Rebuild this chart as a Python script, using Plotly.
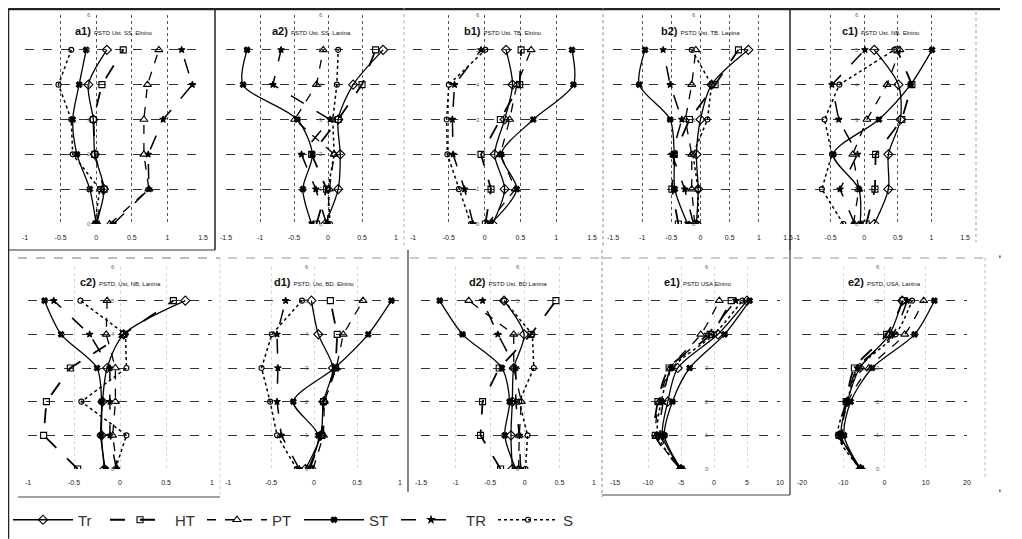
import plotly.graph_objects as go

# page is 1022x539; the html body adds an 8px margin, so the figure is 1014x531
PAGE_OFF = 8
W, H = 1014, 531

levels = [0, 1, 2, 3, 4, 5]
series = ["Tr", "HT", "PT", "ST", "TR", "S"]

a1 = {"Tr": [0.0, 0.11, -0.02, -0.04, -0.11, 0.15],
      "HT": [0.0, 0.11, -0.02, -0.04, 0.08, 0.38],
      "PT": [0.19, 0.74, 0.67, 0.67, 0.72, 0.88],
      "ST": [0.0, -0.09, -0.27, -0.33, -0.24, -0.14],
      "TR": [0.24, 0.74, 0.73, 0.94, 1.35, 1.2],
      "S": [-0.02, 0.05, -0.33, -0.35, -0.53, -0.35]}
a2 = {"Tr": [-0.04, 0.15, 0.18, 0.15, 0.37, 0.81],
      "HT": [-0.17, -0.02, -0.24, 0.15, 0.5, 0.70],
      "PT": [-0.01, 0.02, 0.09, -0.49, -0.17, -0.07],
      "ST": [-0.24, -0.37, -0.23, -0.45, -1.25, -1.19],
      "TR": [-0.02, -0.18, -0.39, 0.03, -0.81, -0.69],
      "S": [0.03, 0.0, 0.09, 0.07, 0.13, 0.15]}
b1 = {"Tr": [0.11, 0.28, 0.14, 0.28, 0.39, 0.30],
      "HT": [0.01, 0.09, -0.05, 0.22, 0.49, 0.51],
      "PT": [0.04, 0.43, 0.22, 0.35, 0.45, 0.65],
      "ST": [0.08, 0.45, 0.23, 0.68, 1.24, 1.22],
      "TR": [-0.16, -0.28, -0.44, -0.45, -0.42, -0.05],
      "S": [-0.19, -0.36, -0.52, -0.53, -0.50, 0.01]}
b2 = {"Tr": [-0.07, -0.04, -0.07, 0.0, 0.19, 0.82],
      "HT": [-0.38, -0.49, -0.45, -0.19, 0.25, 0.65],
      "PT": [-0.10, -0.15, -0.15, -0.26, -0.15, -0.08],
      "ST": [-0.22, -0.44, -0.45, -0.52, -1.05, -0.95],
      "TR": [-0.12, -0.27, -0.49, -0.32, -0.52, -0.64],
      "S": [-0.04, -0.04, -0.13, 0.12, 0.19, -0.15]}
c1 = {"Tr": [0.15, 0.36, 0.36, 0.54, 0.51, 0.15],
      "HT": [0.03, 0.16, 0.17, 0.56, 0.71, 0.49],
      "PT": [-0.16, -0.08, -0.17, 0.04, 0.34, 0.53],
      "ST": [-0.06, -0.08, -0.46, 0.22, 0.69, 1.01],
      "TR": [-0.14, -0.36, -0.10, -0.38, -0.48, 0.01],
      "S": [-0.31, -0.63, -0.48, -0.59, -0.37, 0.45]}
c2 = {"Tr": [-0.17, -0.20, -0.19, -0.14, 0.04, 0.71],
      "HT": [-0.46, -0.83, -0.80, -0.54, 0.04, 0.58],
      "PT": [-0.03, -0.08, -0.05, -0.05, -0.15, -0.14],
      "ST": [-0.16, -0.21, -0.20, -0.25, -0.64, -0.82],
      "TR": [-0.04, -0.11, -0.11, -0.11, -0.33, -0.72],
      "S": [-0.05, 0.07, -0.42, 0.07, 0.06, -0.43]}
d1 = {"Tr": [-0.10, 0.08, 0.11, 0.22, 0.05, -0.03],
      "HT": [-0.05, 0.09, 0.11, 0.25, 0.27, 0.19],
      "PT": [-0.01, 0.11, 0.12, 0.26, 0.34, 0.57],
      "ST": [-0.07, 0.05, -0.24, 0.24, 0.63, 0.90],
      "TR": [-0.17, -0.38, -0.43, -0.42, -0.43, -0.33],
      "S": [-0.20, -0.43, -0.51, -0.61, -0.49, -0.14]}
d2 = {"Tr": [-0.18, -0.20, -0.18, -0.16, -0.01, -0.30],
      "HT": [-0.35, -0.64, -0.61, -0.37, 0.09, 0.45],
      "PT": [-0.09, -0.08, -0.05, -0.16, -0.16, -0.81],
      "ST": [-0.13, -0.29, -0.22, -0.33, -0.90, -1.23],
      "TR": [-0.06, -0.08, -0.13, -0.13, -0.39, -0.61],
      "S": [0.01, 0.04, -0.08, 0.13, 0.11, -0.30]}
e1 = {"Tr": [-5.0, -7.8, -7.0, -5.5, 0.6, 5.0],
      "HT": [-5.0, -8.9, -8.5, -6.8, -0.5, 2.6],
      "PT": [-5.0, -8.7, -8.3, -6.6, -2.0, 0.8],
      "ST": [-5.0, -7.5, -6.3, -3.7, 1.6, 5.4],
      "TR": [-5.0, -8.1, -7.7, -6.5, -1.0, 3.3],
      "S": [-5.0, -8.5, -8.0, -6.3, 0.0, 4.3]}
e2 = {"Tr": [-5.8, -10.5, -9.0, -6.0, 1.2, 4.3],
      "HT": [-5.8, -11.0, -9.3, -7.3, 0.5, 4.5],
      "PT": [-5.8, -10.2, -8.8, -3.8, 4.9, 9.5],
      "ST": [-5.8, -9.8, -8.2, -3.0, 7.3, 12.1],
      "TR": [-5.8, -10.8, -9.2, -6.6, 2.0, 5.5],
      "S": [-5.8, -11.3, -9.1, -6.2, 2.7, 6.7]}

ticks_m1_15 = [-1, -0.5, 0, 0.5, 1, 1.5]
ticks_m15_1 = [-1.5, -1, -0.5, 0, 0.5, 1]
ticks_m15_15 = [-1.5, -1, -0.5, 0, 0.5, 1, 1.5]
ticks_m1_1 = [-1, -0.5, 0, 0.5, 1]
ticks_e1 = [-15, -10, -5, 0, 5, 10]
ticks_e2 = [-20, -10, 0, 10, 20]

titles = {
    "a1": "PSTD Ust. SS. Elnino", "a2": "PSTD Ust. SS. Lanina",
    "b1": "PSTD Ust. TB. Elnino", "b2": "PSTD Ust. TB. Lanina",
    "c1": "PSTD Ust. NB. Elnino", "c2": "PSTD, Ust, NB, Lanina",
    "d1": "PSTD, Ust, BD, Elnino", "d2": "PSTD Ust. BD Lanina",
    "e1": "PSTD USA Elnino", "e2": "PSTD, USA, Lanina",
}

# (name, data, ticks, x-pixel domain on the page, row)
panels = [
    ("a1", a1, ticks_m1_15, (25, 203), 0),
    ("a2", a2, ticks_m15_1, (226, 396), 0),
    ("b1", b1, ticks_m1_15, (413, 592), 0),
    ("b2", b2, ticks_m15_15, (613, 788), 0),
    ("c1", c1, ticks_m1_15, (797, 965), 0),
    ("c2", c2, ticks_m1_1, (28, 212), 1),
    ("d1", d1, ticks_m1_1, (228, 400), 1),
    ("d2", d2, ticks_m15_1, (421, 594), 1),
    ("e1", e1, ticks_e1, (615, 780), 1),
    ("e2", e2, ticks_e2, (802, 967), 1),
]
row_y = {0: (15, 224), 1: (267, 469)}

styles = {
    "Tr": dict(dash="solid", width=1.3, symbol="diamond-open", size=7, smooth=True),
    "HT": dict(dash="longdash", width=1.8, symbol="square-open", size=6, smooth=False),
    "PT": dict(dash="dash", width=1.3, symbol="triangle-up-open", size=7, smooth=False),
    "ST": dict(dash="solid", width=1.3, symbol="x", size=5, smooth=True),
    "TR": dict(dash="longdash", width=1.5, symbol="star", size=5, smooth=False),
    "S": dict(dash="dot", width=1.5, symbol="circle-open", size=5, smooth=False),
}


def px(x):
    return min(max((x - PAGE_OFF) / W, 0.0005), 0.9995)


def py(y):
    return min(max(1 - (y - PAGE_OFF) / H, 0.0005), 0.9995)


def fmt(v):
    return "%g" % v


fig = go.Figure()
annotations = []
FONT = "Liberation Sans"

for i, (name, data, ticks, (x0, x1), row) in enumerate(panels):
    n = "" if i == 0 else str(i + 1)
    y0, y1 = row_y[row]
    xr = [ticks[0], ticks[-1]]
    top = row == 0
    fig.update_layout(**{
        "xaxis" + n: dict(
            domain=[px(x0), px(x1)], range=xr, anchor="y" + n,
            tickvals=ticks, ticktext=[fmt(t) for t in ticks],
            tickfont=dict(size=7, color="#222", family=FONT),
            ticks="", ticklabelstandoff=8,
            showgrid=True, griddash="dot",
            gridcolor="#555" if top else "#d5d5d5", gridwidth=1,
            zeroline=False, showline=False, fixedrange=True),
        "yaxis" + n: dict(
            domain=[py(y1), py(y0)], range=[0, 6], anchor="x" + n,
            tickvals=[0, 1, 2, 3, 4, 5, 6], showticklabels=False,
            showgrid=True, griddash="dash", gridcolor="#333", gridwidth=1,
            zeroline=False, showline=False, fixedrange=True),
    })
    for s in series:
        st = styles[s]
        smooth = st["smooth"] or name in ("e1", "e2")
        fig.add_trace(go.Scatter(
            x=data[s], y=levels, xaxis="x" + n, yaxis="y" + n,
            mode="lines+markers", name=s, legendgroup=s,
            showlegend=(i == 0),
            line=dict(color="black", dash=st["dash"], width=st["width"],
                      shape="spline" if smooth else "linear", smoothing=0.8),
            marker=dict(symbol=st["symbol"], size=st["size"], color="black",
                        line=dict(color="black", width=1.1)),
        ))
    # y-level labels beside x = 0
    for lv in range(7):
        annotations.append(dict(
            x=0, y=lv, xref="x" + n, yref="y" + n, text=str(lv),
            showarrow=False, xanchor="right", yanchor="middle", xshift=-3,
            font=dict(size=6, color="#666", family=FONT)))
    # panel title
    xm = (xr[0] + xr[1]) / 2
    annotations.append(dict(
        x=xm, y=5.55, xref="x" + n, yref="y" + n,
        text="<b>%s)</b> <span style='font-size:6px'>%s</span>" % (name, titles[name]),
        showarrow=False, xanchor="center", yanchor="middle",
        font=dict(size=11, color="#111", family=FONT)))

# commas from the source document
annotations.append(dict(x=px(1004), y=py(252), xref="paper", yref="paper", text=",",
                        showarrow=False, font=dict(size=13, color="#222")))
annotations.append(dict(x=px(1004), y=py(496), xref="paper", yref="paper", text=",",
                        showarrow=False, font=dict(size=13, color="#222")))


def line(xa, ya, xb, yb, color="#222", width=1.5, dash="solid"):
    return dict(type="line", xref="paper", yref="paper",
                x0=px(xa), y0=py(ya), x1=px(xb), y1=py(yb),
                line=dict(color=color, width=width, dash=dash))


shapes = [
    line(5, 9, 1000, 9, "#222", 2.5),
    line(5, 3, 5, 250, "#222", 1.5),
    line(215, 3, 215, 250, "#222", 1.5),
    line(404, 3, 404, 248, "#aaa", 1, "dot"),
    line(603, 3, 603, 248, "#888", 1, "dot"),
    line(790, 3, 790, 250, "#222", 1.5),
    line(976, 12, 976, 242, "#999", 1, "dot"),
    line(5, 250, 215, 250, "#333", 1),
    line(4, 250, 4, 539, "#222", 1.5),
    line(18, 258, 220, 258, "#777", 1, "dash"),
    line(228, 258, 405, 258, "#999", 1, "dash"),
    line(410, 258, 600, 258, "#999", 1, "dash"),
    line(603, 258, 788, 258, "#999", 1, "dash"),
    line(794, 258, 985, 258, "#999", 1, "dash"),
    line(18, 497, 220, 497, "#444", 1),
    line(220, 258, 220, 497, "#ccc", 1, "dot"),
    line(408, 250, 408, 492, "#333", 1.2),
    line(602, 250, 602, 497, "#888", 1, "dot"),
    line(602, 495, 790, 495, "#444", 1),
    line(790, 250, 790, 495, "#333", 1.2),
    line(985, 258, 985, 480, "#bbb", 1, "dot"),
]

fig.update_layout(
    width=W, height=H, margin=dict(l=0, r=0, t=0, b=0, pad=0, autoexpand=False),
    paper_bgcolor="white", plot_bgcolor="white",
    font=dict(family=FONT, color="#222"),
    annotations=annotations, shapes=shapes,
    legend=dict(orientation="h", x=0.0, y=py(520), xanchor="left", yanchor="middle",
                font=dict(size=15, color="#333", family=FONT),
                entrywidth=22, entrywidthmode="pixels", itemwidth=60,
                bgcolor="rgba(0,0,0,0)", tracegroupgap=0),
)

fig.write_html("out.html")
